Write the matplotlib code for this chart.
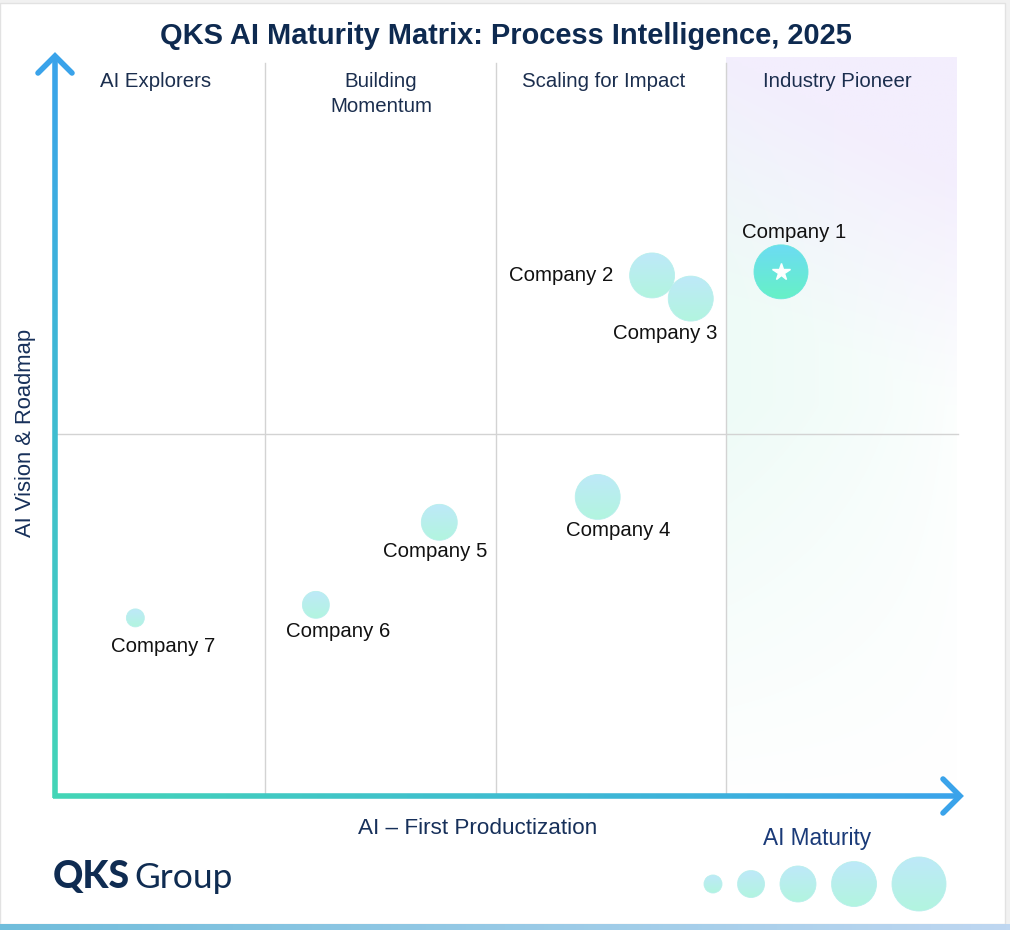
import numpy as np
import matplotlib
matplotlib.use("Agg")
import matplotlib.pyplot as plt
from matplotlib.patches import Ellipse, Rectangle
from matplotlib.collections import LineCollection
from matplotlib.colors import to_rgb

# ---------------- data ----------------
companies = ["Company 1", "Company 2", "Company 3", "Company 4",
             "Company 5", "Company 6", "Company 7"]
productization = [81.0, 67.0, 71.2, 61.1, 43.9, 30.5, 10.9]   # x: AI - First Productization
vision = [72.4, 71.9, 68.7, 41.3, 37.8, 26.4, 24.6]           # y: AI Vision & Roadmap
maturity = [5, 4, 4, 4, 3, 2, 1]                              # bubble size level
leaders = ["Company 1"]
quadrants = ["AI Explorers", "Building\nMomentum", "Scaling for Impact", "Industry Pioneer"]
legend_levels = [1, 2, 3, 4, 5]

# label placement (offset in px from the bubble centre: dx, baseline dy downward)
label_offsets = [(13.5, -33.7), (-91, 5.5), (-25.3, 40.3), (20.5, 39.2),
                 (-4.5, 35), (22.5, 32), (28.2, 34.2)]

FONT = "Liberation Sans"
NAVY = "#0e2a50"

def radius_px(level):
    return 4.5 * (level + 1)

W, H = 1010, 930
fig = plt.figure(figsize=(W / 100, H / 100), dpi=100)
fig.patch.set_facecolor("#f1f1f1")

# background (pixel coordinates)
bg = fig.add_axes([0, 0, 1, 1])
bg.axis("off")
bg.add_patch(Rectangle((0, 3), 1005, 921, facecolor="white", edgecolor="#e2e2e2", lw=1, zorder=0))
g = np.linspace(0, 1, 256)[:, None]
c0, c1 = np.array(to_rgb("#70bddb")), np.array(to_rgb("#bfd7f1"))
bar = c0 * (1 - g) + c1 * g
bg.imshow(bar[None, :, :], extent=(0, W, 930, 924.5), aspect="auto", zorder=1)
bg.set_xlim(0, W)
bg.set_ylim(H, 0)

# main plotting axes: data 0..100 mapped to pixel rows 796..72
L, R, B, T = 35, 956, 796, 72
TOP = 50  # axes box top (px) so that the shading/arrow fit
def px_x(p):
    return (p - L) / (R - L) * 100

def px_y(p):
    return (B - p) / (B - T) * 100

ax = fig.add_axes([L / W, 1 - B / H, (R - L) / W, (B - TOP) / H])
ax.axis("off")

dx_per_px = 100 / (R - L)
dy_per_px = 100 / (B - T)

# Industry Pioneer shading
ny, nx = 300, 80
u = np.linspace(0, 1, ny)[:, None]
v = np.linspace(0, 1, nx)[None, :]
lav = np.array(to_rgb("#f3eefd"))
mint = np.array(to_rgb("#eefbf7"))
lav_w = np.clip(1 - (u - 0.16 * v) / 0.32, 0, 1) ** 1.1
mint_w = np.clip(1 - v / 1.05, 0, 1) ** 0.6 * np.clip((1.02 - u) / 0.55, 0, 1)
img = (1 - lav_w[..., None] * (1 - lav)
       - ((1 - lav_w) * mint_w)[..., None] * (1 - mint))
ax.imshow(img, extent=(75, px_x(958), 0, px_y(58)), origin="upper",
          aspect="auto", zorder=0, interpolation="bilinear")

# quadrant grid lines
for xv in [25, 50, 75]:
    ax.plot([xv, xv], [0, px_y(63)], color="#d3d3d3", lw=1, zorder=1, clip_on=False)
ax.plot([px_x(55), px_x(958)], [50, 50], color="#d3d3d3", lw=1, zorder=1, clip_on=False)

# gradient axes arrows
def grad_line(x0, y0, x1, y1, ca, cb, n=120, lw=4):
    xs = np.linspace(x0, x1, n + 1)
    ys = np.linspace(y0, y1, n + 1)
    segs = [[(xs[i], ys[i]), (xs[i + 1], ys[i + 1])] for i in range(n)]
    t = np.linspace(0, 1, n)[:, None]
    cols = np.array(to_rgb(ca)) * (1 - t) + np.array(to_rgb(cb)) * t
    lc = LineCollection(segs, colors=cols, linewidths=lw, capstyle="butt", zorder=3, clip_on=False)
    ax.add_collection(lc)

BLUE, TEAL = "#3aa3ea", "#43d5b6"
grad_line(px_x(55), px_y(798), px_x(55), px_y(57), TEAL, BLUE)
grad_line(px_x(53), px_y(796), px_x(958), px_y(796), TEAL, BLUE)
ax.plot([px_x(38), px_x(55), px_x(72)], [px_y(73), px_y(56), px_y(73)],
        color=BLUE, lw=4, solid_capstyle="round", solid_joinstyle="miter", zorder=4, clip_on=False)
ax.plot([px_x(943), px_x(960), px_x(943)], [px_y(779), px_y(796), px_y(813)],
        color=BLUE, lw=4, solid_capstyle="round", solid_joinstyle="miter", zorder=4, clip_on=False)

# gradient bubbles (h < 0 for axes with inverted y so the gradient stays top->bottom)
def bubble(axis, x, y, w, h, top, bot, z):
    ell = Ellipse((x, y), w, h, facecolor="none", edgecolor="none", zorder=z)
    axis.add_patch(ell)
    t = np.linspace(0, 1, 64)[:, None]
    arr = (np.array(to_rgb(top)) * (1 - t) + np.array(to_rgb(bot)) * t)[:, None, :]
    im = axis.imshow(arr, extent=(x - w / 2, x + w / 2, y - h / 2, y + h / 2),
                     origin="upper", aspect="auto", zorder=z, interpolation="bilinear")
    im.set_clip_path(ell)
    axis.add_patch(Ellipse((x, y), w, h, facecolor="none",
                           edgecolor=tuple((np.array(to_rgb(top)) + np.array(to_rgb(bot))) / 2),
                           lw=0.6, zorder=z + 0.001))

for i, (name, x, y, m) in enumerate(zip(companies, productization, vision, maturity)):
    r = radius_px(m)
    if name in leaders:
        top, bot = "#6cdcf3", "#66f1c6"
    else:
        top, bot = "#bee9f9", "#b2f5df"
    bubble(ax, x, y, 2 * r * dx_per_px, 2 * r * dy_per_px, top, bot, 5 + i * 0.01)
    if name in leaders:
        ax.plot(x, y, marker="*", color="white", ms=13, mec="white", zorder=7)
    ox, oy = label_offsets[i]
    ax.annotate(name, (x, y), xytext=(ox * 0.72, -oy * 0.72), textcoords="offset points",
                ha="center", va="baseline", fontsize=14.7, family=FONT,
                color="#111111", zorder=8, annotation_clip=False)

ax.set_xlim(0, 100)
ax.set_ylim(0, px_y(TOP))

# quadrant headings (drawn above the shading, in pixel coordinates)
head_x = [156, 381, 604, 837]
for hx, q in zip(head_x, quadrants):
    for k, line in enumerate(q.split("\n")):
        ax.text(hx, 87 + 25.5 * k, line, ha="center", va="baseline", fontsize=14.7,
                family=FONT, color="#1b2e4e", transform=bg.transData, zorder=9)

# titles and labels
bg.text(506, 43.5, "QKS AI Maturity Matrix: Process Intelligence, 2025", ha="center",
        va="baseline", fontsize=20.9, fontweight="bold", family=FONT, color=NAVY)
bg.text(31, 432.5, "AI Vision & Roadmap", rotation=90, ha="center", va="baseline",
        fontsize=15.8, family=FONT, color="#17305a", rotation_mode="anchor")
bg.text(478, 834, "AI \u2013 First Productization", ha="center", va="baseline",
        fontsize=16.2, family=FONT, color="#17305a")
bg.text(817, 845, "AI Maturity", ha="center", va="baseline", fontsize=16.3,
        family=FONT, color="#1a3a78")

# logo
bg.text(53, 888, "QKS", ha="left", va="baseline", fontsize=27, fontweight="black",
        family="Lato", color="#0f2c52")
bg.text(134, 888, "Group", ha="left", va="baseline", fontsize=25.5, family="Lato",
        color="#0f2c52")

# bubble size legend
xl = 704.0
for lev in legend_levels:
    r = radius_px(lev)
    cx = xl + r
    bubble(bg, cx, 884, 2 * r, -2 * r, "#bee9f9", "#b2f5df", 6)
    xl = cx + r + 15.5

bg.set_xlim(0, W)
bg.set_ylim(H, 0)

fig.savefig("out.png", dpi=100, facecolor=fig.get_facecolor())
